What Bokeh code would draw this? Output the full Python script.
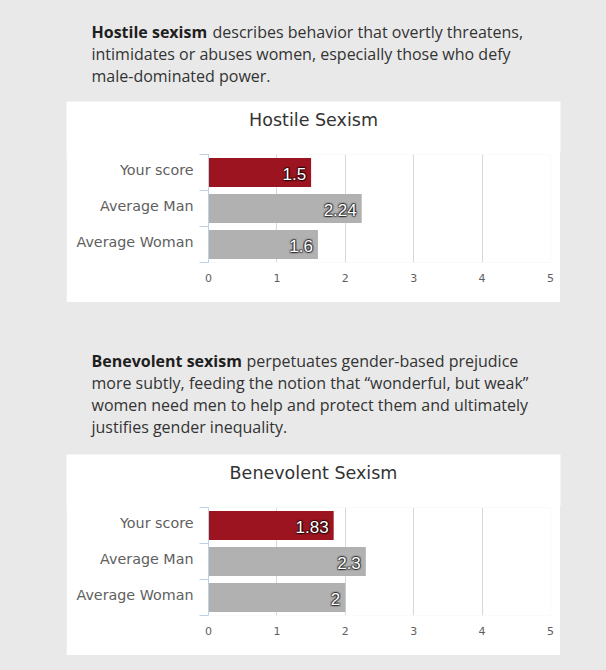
from bokeh.plotting import figure
from bokeh.models import (Range1d, LinearAxis, FixedTicker, Spacer, ColumnDataSource, Grid,
                          GlobalInlineStyleSheet)
from bokeh.layouts import column, row
from bokeh.core.properties import value
from bokeh.embed import file_html
from bokeh.resources import INLINE

# ---------------- data ----------------
categories = ["Your score", "Average Man", "Average Woman"]
hostile_values = [1.5, 2.24, 1.6]
benevolent_values = [1.83, 2.3, 2]
bar_colors = ["#9b141f", "#b1b1b1", "#b1b1b1"]
x_ticks = [0, 1, 2, 3, 4, 5]
chart_titles = ["Hostile Sexism", "Benevolent Sexism"]

hostile_bold = "Hostile sexism"
hostile_lines = ["describes behavior that overtly threatens,",
                 "intimidates or abuses women, especially those who defy",
                 "male-dominated power."]
benevolent_bold = "Benevolent sexism"
benevolent_lines = ["perpetuates gender-based prejudice",
                    "more subtly, feeding the notion that \u201cwonderful, but weak\u201d",
                    "women need men to help and protect them and ultimately",
                    "justifies gender inequality."]

BG = "#e9e9e9"
AXIS_C = "#c0d0e0"
GRID_C = "#d8d8d8"
PAGE_W = 606
BOX_L, BOX_W = 66, 494          # white chart boxes
HEAD_H = 52                      # title strip of each white box
CH_H = 150
B_LEFT, B_RIGHT, B_TOP, B_BOTTOM = 142, 10, 2, 40
LABEL_LIFT_PX = 3                # category labels sit slightly above band centre


def text_panel(height, bold, lines, baselines, rest_x, title):
    p = figure(width=PAGE_W, height=height, x_range=Range1d(0, PAGE_W),
               y_range=Range1d(height, 0), toolbar_location=None, output_backend="svg",
               x_axis_location=None, y_axis_location=None, min_border=0)
    p.grid.visible = False
    p.outline_line_color = None
    p.background_fill_color = BG
    p.border_fill_color = BG
    common = dict(text_font=value("Open Sans"), text_font_size="16px",
                  text_baseline="alphabetic", text_align="left")
    p.text(x=[91], y=[baselines[0]], text=[bold], text_color="#1e1e1e",
           text_font_style="bold", **common)
    p.text(x=[rest_x], y=[baselines[0]], text=[lines[0]], text_color="#333333", **common)
    p.text(x=[91] * (len(lines) - 1), y=baselines[1:], text=lines[1:],
           text_color="#333333", **common)
    # top strip of the white chart box, holding the chart title
    p.quad(left=[BOX_L], right=[BOX_L + BOX_W], top=[height - HEAD_H], bottom=[height + 2],
           fill_color="white", line_color=None)
    p.text(x=[BOX_L + BOX_W / 2], y=[height - HEAD_H + 18.5], text=[title],
           text_align="center", text_baseline="alphabetic", text_font=value("DejaVu Sans"),
           text_font_size="17.5px", text_color="#333333")
    return p


def chart_panel(values):
    n = len(categories)
    # category i is drawn in band [n-i-1, n-i] of a 0..n scale (first category on top)
    centers = [n - i - 0.5 for i in range(n)]
    x0, x1 = x_ticks[0], x_ticks[-1]
    frame_h = CH_H - B_TOP - B_BOTTOM
    lift = LABEL_LIFT_PX * n / frame_h
    label_pos = [c + lift for c in centers]

    p = figure(width=BOX_W, height=CH_H, y_range=Range1d(0, n), x_range=Range1d(x0, x1),
               toolbar_location=None, output_backend="svg",
               x_axis_location=None, y_axis_location=None,
               min_border_left=B_LEFT, min_border_right=B_RIGHT, min_border_top=B_TOP,
               min_border_bottom=B_BOTTOM)
    p.grid.visible = False
    p.outline_line_color = None
    p.background_fill_color = "white"
    p.border_fill_color = "white"

    y_axis = LinearAxis(ticker=FixedTicker(ticks=label_pos, minor_ticks=list(range(n + 1))),
                        major_label_overrides={c: cat for c, cat in zip(label_pos, categories)},
                        major_tick_line_color=None, major_tick_in=0, major_tick_out=0,
                        minor_tick_in=0, minor_tick_out=9, minor_tick_line_color=AXIS_C,
                        axis_line_color=AXIS_C, major_label_standoff=6,
                        major_label_text_font="DejaVu Sans",
                        major_label_text_font_size="14.3px",
                        major_label_text_color="#606060")
    p.add_layout(y_axis, "left")

    x_axis = LinearAxis(ticker=FixedTicker(ticks=x_ticks), axis_line_color=None,
                        major_tick_line_color=None, minor_tick_line_color=None,
                        major_tick_in=0, major_tick_out=0, minor_tick_in=0, minor_tick_out=0,
                        major_label_standoff=11, major_label_text_font="DejaVu Sans",
                        major_label_text_font_size="11px", major_label_text_color="#606060")
    p.add_layout(x_axis, "below")
    p.add_layout(Grid(dimension=0, ticker=FixedTicker(ticks=x_ticks[1:]),
                      grid_line_color=GRID_C, grid_line_width=1))

    src = ColumnDataSource(dict(pos=centers, cat=categories, val=values, color=bar_colors,
                                label=[f"{v:g}" for v in values]))
    p.hbar(y="pos", left=0, right="val", height=0.8, source=src,
           fill_color="color", line_color=None)

    lab = dict(x="val", y="pos", text="label", source=src, text_align="right",
               text_baseline="middle", text_font=value("Liberation Sans"),
               text_font_size="17px")
    for r, a in ((2, 0.07), (1, 0.32)):
        for dx in (-r, 0, r):
            for dy in (-r, 0, r):
                if dx == 0 and dy == 0:
                    continue
                p.text(x_offset=-5 + dx, y_offset=1 + dy, text_color="#000000",
                       text_alpha=a, **lab)
    p.text(x_offset=-5, y_offset=1, text_color="white", **lab)
    return p


text1 = text_panel(153, hostile_bold, hostile_lines, [31, 53, 75], 212, chart_titles[0])
chart1 = chart_panel(hostile_values)
text2 = text_panel(204, benevolent_bold, benevolent_lines, [58.5, 80.5, 102.5, 124.5], 246,
                   chart_titles[1])
chart2 = chart_panel(benevolent_values)

side_r = PAGE_W - BOX_L - BOX_W


def chart_row(ch):
    return row(Spacer(width=BOX_L, height=CH_H), ch, Spacer(width=side_r, height=CH_H),
               spacing=0, styles={"margin-top": "-1px"})


layout = column(
    text1,
    chart_row(chart1),
    text2,
    chart_row(chart2),
    Spacer(width=PAGE_W, height=15),
    spacing=0,
    styles={"background-color": BG},
    stylesheets=[GlobalInlineStyleSheet(css="html, body { background-color: #e9e9e9; }")],
)

open("out.html", "w").write(file_html(layout, INLINE))
